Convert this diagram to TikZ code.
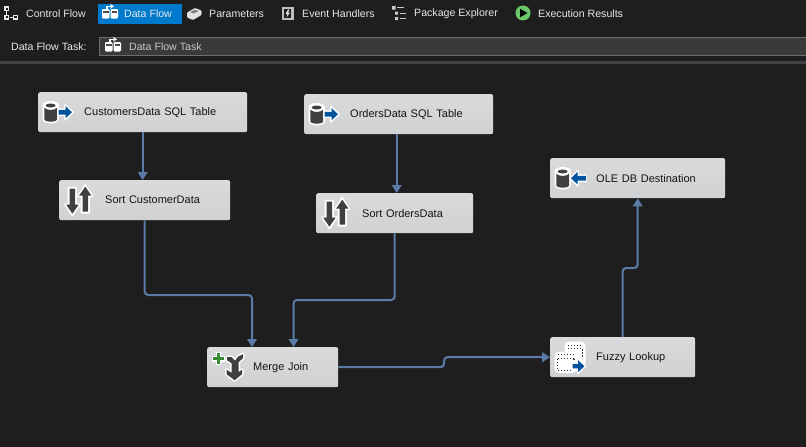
\documentclass[tikz,border=0pt]{standalone}
\usepackage{fontspec}
\setmainfont{Liberation Sans}
\usetikzlibrary{arrows.meta}
\definecolor{bgc}{HTML}{1E1E1E}
\definecolor{tabc}{HTML}{007ACC}
\definecolor{fieldc}{HTML}{3A3A3A}
\definecolor{fieldb}{HTML}{6E6E6E}
\definecolor{barc}{HTML}{3F4347}
\definecolor{wirec}{HTML}{5B7CA8}
\definecolor{darkic}{HTML}{404040}
\definecolor{blueic}{HTML}{00539C}
\definecolor{greenic}{HTML}{388A34}
\definecolor{playc}{HTML}{6CC76C}
\definecolor{tooltext}{HTML}{E8E8E8}
\definecolor{boxtop}{HTML}{DADADC}
\definecolor{boxbot}{HTML}{CFD1D3}
\newcommand{\fsz}{\fontsize{11}{13}\selectfont}
\newcommand{\tsz}{\fontsize{10.6}{13}\selectfont}
\newcommand{\tasktext}[1]{\hspace*{46pt}\raisebox{-0.8pt}{#1}}
\tikzset{
  x=1pt,y=-1pt,
  taskbox/.style={draw=none,rounded corners=2pt,top color=boxtop,bottom color=boxbot,
    inner sep=0pt,minimum height=40pt,anchor=north west,align=left,text=black!92,font=\fsz},
  toollabel/.style={anchor=west,inner sep=0pt,text=tooltext,font=\tsz},
  wire/.style={draw=wirec,line width=2pt,rounded corners=3.5pt,-{Triangle[width=9.5pt,length=8pt]}},
  halo/.style={draw=white,line width=1.6pt,line join=round,fill=white},
  icdark/.style={fill=darkic,draw=none},
  icblue/.style={fill=blueic,draw=none},
  dots/.style={black!80,line width=1.4pt,dash pattern=on 1.4pt off 1.6pt},
}
\newcommand{\cylico}{%
  \path[halo] (5.5,-7) .. controls (5.5,-11.5) and (20,-11.5) .. (20,-7) -- (20,7) .. controls (20,11.5) and (5.5,11.5) .. (5.5,7) -- cycle;
  \path[icdark] (6.3,-4.5) .. controls (9,-1.5) and (16.5,-1.5) .. (19.2,-4.5) -- (19.2,7) .. controls (19.2,10.3) and (6.3,10.3) .. (6.3,7) -- cycle;
  \path[fill=darkic] (12.7,-6.7) ellipse [x radius=5,y radius=2];
}
\newcommand{\outarrow}{%
  \path[halo] (20,-3) -- (27,-3) -- (27,-7.5) -- (35,0) -- (27,7.5) -- (27,3) -- (20,3) -- cycle;
  \path[icblue] (20.5,-2.3) -- (27.5,-2.3) -- (27.5,-6.2) -- (34,0) -- (27.5,6.2) -- (27.5,2.3) -- (20.5,2.3) -- cycle;
}
\newcommand{\inarrow}{%
  \path[halo] (36,-3) -- (28,-3) -- (28,-7.5) -- (20,0) -- (28,7.5) -- (28,3) -- (36,3) -- cycle;
  \path[icblue] (36,-2.3) -- (27.5,-2.3) -- (27.5,-6.2) -- (21,0) -- (27.5,6.2) -- (27.5,2.3) -- (36,2.3) -- cycle;
}
\newcommand{\sortico}{%
  \path[halo] (9.5,-12.5) -- (17,-12.5) -- (17,4) -- (21,4) -- (13.5,15.5) -- (6,4) -- (9.5,4) -- cycle;
  \path[halo] (22.5,12.5) -- (30,12.5) -- (30,-4) -- (33.5,-4) -- (26.3,-15.5) -- (19,-4) -- (22.5,-4) -- cycle;
  \path[icdark] (10.7,-11.5) -- (16,-11.5) -- (16,4.5) -- (19.7,4.5) -- (13.4,13.5) -- (7.2,4.5) -- (10.7,4.5) -- cycle;
  \path[icdark] (23.5,11.5) -- (29,11.5) -- (29,-4.5) -- (32.5,-4.5) -- (26.3,-13.5) -- (20,-4.5) -- (23.5,-4.5) -- cycle;
}
\newcommand{\mergeshape}{(20,-10) -- (24.5,-10) -- (28,-6.5) -- (31,-10.5) -- (36,-13) -- (36,-9) -- (31.5,-5) -- (31.5,5) -- (35,2.5) -- (35,7) -- (27.7,13) -- (19.5,7) -- (19.5,2.5) -- (24.5,5.5) -- (24.5,-4) -- (20,-7) -- cycle}
\newcommand{\mergeico}{%
  \path[draw=white,fill=white,line width=3pt,line join=round] \mergeshape;
  \path[icdark] \mergeshape;
  \path[fill=white] (8.5,-15) rectangle (14,-2);
  \path[fill=white] (5,-11.5) rectangle (18,-5.5);
  \path[fill=greenic] (9.5,-14) rectangle (13,-3);
  \path[fill=greenic] (6,-10.2) rectangle (17,-6.8);
}
\newcommand{\fuzzyico}{%
  \path[fill=white,draw=white,line width=1pt,rounded corners=4pt] (15,-15) rectangle (35,9);
  \path[fill=white,draw=white,line width=1pt,rounded corners=4pt] (5,-5) rectangle (26,15.5);
  \draw[dots] (18,-12) -- (32,-12);
  \draw[dots] (18,-8.5) -- (33,-8.5);
  \draw[dots] (32.5,-8) -- (32.5,1);
  \draw[dots] (8,-2.5) -- (24,-2.5);
  \draw[dots] (7.5,1.5) -- (24,1.5);
  \draw[dots] (7.5,1.5) -- (7.5,13.5);
  \draw[dots] (7.5,13.5) -- (20,13.5);
  \draw[dots] (24,1.5) -- (24,5);
  \path[halo] (22,5.5) -- (28,5.5) -- (28,1.5) -- (35.5,9) -- (28,16) -- (28,12.5) -- (22,12.5) -- cycle;
  \path[icblue] (22.5,6.8) -- (28,6.8) -- (28,3) -- (34.5,9) -- (28,15) -- (28,11.2) -- (22.5,11.2) -- cycle;
}
\newcommand{\flowico}[2]{%
  \begin{scope}[shift={(#1,#2)}]
    \path[fill=white,rounded corners=1.2pt] (0,3.5) rectangle (7.5,13);
    \path[fill=white,rounded corners=1.2pt] (8.5,3.5) rectangle (16,13);
    \path[fill=black!70] (1,5.5) rectangle (6.5,7);
    \path[fill=black!70] (9.5,5.5) rectangle (15,7);
    \draw[white,line width=1.2pt,-{Stealth[length=4pt,width=5pt]}] (5,3) -- (5,0.8) -- (12,0.8);
  \end{scope}
}
\begin{document}
\begin{tikzpicture}
\useasboundingbox (0,0) rectangle (806,447);
\path[fill=bgc] (0,0) rectangle (806,447);
% tool strip
\path[fill=tabc] (98,4) rectangle (182,24);
\path[fill=fieldc,draw=fieldb,line width=0.8pt] (99.5,37.5) rectangle (810,55.5);
\path[fill=barc] (0,61) rectangle (806,63.5);
\node[toollabel] (tControl) at (26,13.6) {Control Flow};
\node[toollabel] (tData) at (124,13.6) {Data Flow};
\node[toollabel] (tParam) at (209,13.6) {Parameters};
\node[toollabel] (tEvent) at (302,13.6) {Event Handlers};
\node[toollabel] (tPack) at (414,13.6) {Package Explorer};
\node[toollabel] (tExec) at (538,13.6) {Execution Results};
\node[toollabel] (tTask) at (11,46.6) {Data Flow Task:};
\node[toollabel,text=black!22] (tField) at (129,46.6) {Data Flow Task};
% control flow icon
\draw[tooltext,line width=1.1pt] (5,7) rectangle (8.5,10.5) (5,15.5) rectangle (8.5,19) (13.5,15.5) rectangle (17.5,19) (6.7,11) -- (6.7,15) (9.5,17.2) -- (13,17.2);
\flowico{102}{5.5}
\flowico{105}{38.5}
% parameters
\path[fill=black!12,rounded corners=1pt] (187,12.5) -- (195,8) -- (201.5,10.5) -- (201.5,15) -- (193,20) -- (187,17.5) -- cycle;
\path[fill=black!50] (190,12) -- (195,9.8) -- (198.5,11) -- (193.5,13.5) -- cycle;
% event handlers
\path[fill=black!25] (281.5,6.5) rectangle (293.5,20);
\path[fill=bgc] (284,9) rectangle (291,18);
\path[fill=tooltext] (288,9.5) -- (285.5,14) -- (287.5,14) -- (286.5,17.5) -- (290,12.5) -- (288,12.5) -- (289.5,9.5) -- cycle;
% package explorer
\path[fill=black!20] (392,6) rectangle (395.5,9.5) (395,11.5) rectangle (398,14.5) (395,17) rectangle (398,20);
\draw[black!20,line width=1pt] (397,7.5) -- (404,7.5) (400,13) -- (406,13) (400,18.5) -- (406,18.5);
% run icon
\path[fill=playc] (523,13) circle [radius=7.5];
\path[fill=black] (520,8.7) -- (527.5,13) -- (520,17.3) -- cycle;
% tasks
\node[taskbox,text width=209pt] (cust) at (38,92) {\tasktext{CustomersData SQL Table}};
\node[taskbox,text width=171pt] (sortc) at (59,180) {\tasktext{Sort CustomerData}};
\node[taskbox,text width=189pt] (orders) at (304,94) {\tasktext{OrdersData SQL Table}};
\node[taskbox,text width=157pt] (sorto) at (316,193) {\tasktext{Sort OrdersData}};
\node[taskbox,text width=131pt] (merge) at (207,347) {\tasktext{Merge Join}};
\node[taskbox,text width=145pt] (fuzzy) at (550,337) {\tasktext{Fuzzy Lookup}};
\node[taskbox,text width=175pt] (oledb) at (550,158) {\tasktext{OLE DB Destination}};
% icons
\begin{scope}[shift={(cust.west)}]\cylico\outarrow\end{scope}
\begin{scope}[shift={(orders.west)}]\cylico\outarrow\end{scope}
\begin{scope}[shift={(oledb.west)}]\cylico\inarrow\end{scope}
\begin{scope}[shift={(sortc.west)}]\sortico\end{scope}
\begin{scope}[shift={(sorto.west)}]\sortico\end{scope}
\begin{scope}[shift={(merge.west)}]\mergeico\end{scope}
\begin{scope}[shift={(fuzzy.west)}]\fuzzyico\end{scope}
% connectors
\coordinate (bendA) at (145,295);
\coordinate (bendB) at (395,300);
\coordinate (bendC) at (444,0);
\coordinate (bendD) at (0,268);
\coordinate (mergeL) at (252,347);
\coordinate (mergeR) at (293.5,347);
\coordinate (ordOut) at (396.8,134);
\draw[wire] (cust.south) -- (cust.south |- sortc.north);
\draw[wire] (ordOut) -- (ordOut |- sorto.north);
\draw[wire] (sortc.south) -- (sortc.south |- bendA) -- (mergeL |- bendA) -- (mergeL);
\draw[wire] (sorto.south) -- (sorto.south |- bendB) -- (mergeR |- bendB) -- (mergeR);
\draw[wire] (merge.east) -- (bendC |- merge.east) -- (bendC |- fuzzy.west) -- (fuzzy.west);
\draw[wire] (fuzzy.north) -- (fuzzy.north |- bendD) -- (oledb.south |- bendD) -- (oledb.south);
\end{tikzpicture}
\end{document}
